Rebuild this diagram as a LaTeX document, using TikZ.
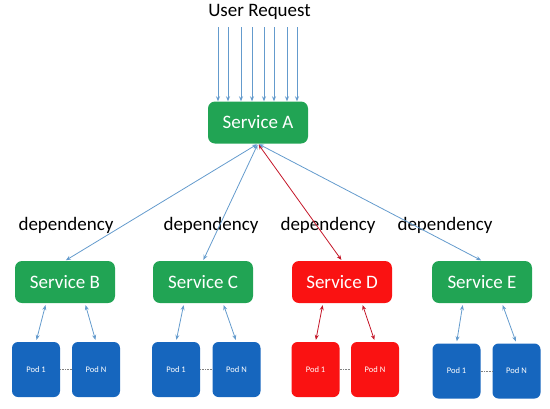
\documentclass[tikz,border=0pt]{standalone}
\usepackage{fontspec}
\setmainfont{Carlito}
\usetikzlibrary{arrows.meta,positioning}
\definecolor{svcgreen}{RGB}{33,164,84}
\definecolor{svcred}{RGB}{250,18,18}
\definecolor{podblue}{RGB}{22,102,190}
\definecolor{linkblue}{RGB}{100,155,205}
\definecolor{linkred}{RGB}{196,22,40}

\begin{document}
\begin{tikzpicture}[x=1pt,y=-1pt,
    service/.style={rounded corners=7pt, minimum width=100pt, minimum height=42pt, inner sep=0pt, text=white, font=\fontsize{19}{19}\selectfont},
    pod/.style={rounded corners=6pt, fill=podblue, minimum width=48pt, minimum height=55pt, inner sep=0pt, text=white, font=\fontsize{8.5}{8.5}\selectfont},
    link/.style={linkblue, line width=0.8pt, {Stealth[length=5pt,width=4pt]}-{Stealth[length=5pt,width=4pt]}, shorten <=1pt, shorten >=1pt},
    label/.style={font=\fontsize{19}{19}\selectfont, anchor=base}]
    	\useasboundingbox (0,0) rectangle (550,408);
    	\node[label] (req) at (259.5,16) {User Request};
    	\node[service, fill=svcgreen] (A) at (258,122.5) {Service A};
    	\node[service, fill=svcgreen] (B) at (65,282) {Service B};
    	\node[service, fill=svcgreen] (C) at (203,282) {Service C};
    	\node[service, fill=svcred] (D) at (342,282) {Service D};
    	\node[service, fill=svcgreen] (E) at (482,282) {Service E};
    	\node[pod] (B1) at (36,369.5) {Pod 1};
    	\node[pod] (BN) at (96,369.5) {Pod N};
    	\node[pod] (C1) at (176,369.5) {Pod 1};
    	\node[pod] (CN) at (236.5,369.5) {Pod N};
    	\node[pod, fill=svcred] (D1) at (315.5,369.5) {Pod 1};
    	\node[pod, fill=svcred] (DN) at (375,369.5) {Pod N};
    	\node[pod] (E1) at (456.5,371) {Pod 1};
    	\node[pod] (EN) at (516.5,371) {Pod N};
    	\node[label] (depB) at (66,230) {dependency};
    	\node[label] (depC) at (211,230) {dependency};
    	\node[label] (depD) at (328,230) {dependency};
    	\node[label] (depE) at (445,230) {dependency};
    	% incoming requests
    	\foreach \x [count=\i] in {218,228,241,252,264,274,287,297} {
    		\coordinate (r\i) at (\x,27);
    		\draw [linkblue, line width=0.8pt, -{Stealth[length=5pt,width=4pt]}] (r\i)--(r\i |- A.north);
    	}
    	% dependencies
    	\draw [link] (A.south)--(B.north);
    	\draw [link] (A.south)--(C.north);
    	\draw [link, linkred] (A.south)--(D.north);
    	\draw [link] (A.south)--(E.north);
    	% pods
    	\foreach \s/\p/\q/\c in {B/B1/BN/linkblue, C/C1/CN/linkblue, D/D1/DN/linkred, E/E1/EN/linkblue} {
    		\draw [link, \c, shorten <=2pt, shorten >=2pt] (\p.north)--([xshift=-19pt]\s.south);
    		\draw [link, \c, shorten <=2pt, shorten >=2pt] (\q.north)--([xshift=20pt]\s.south);
    		\draw [gray, densely dotted, line width=0.6pt] (\p.east)--(\q.west);
    	}
\end{tikzpicture}
\end{document}
